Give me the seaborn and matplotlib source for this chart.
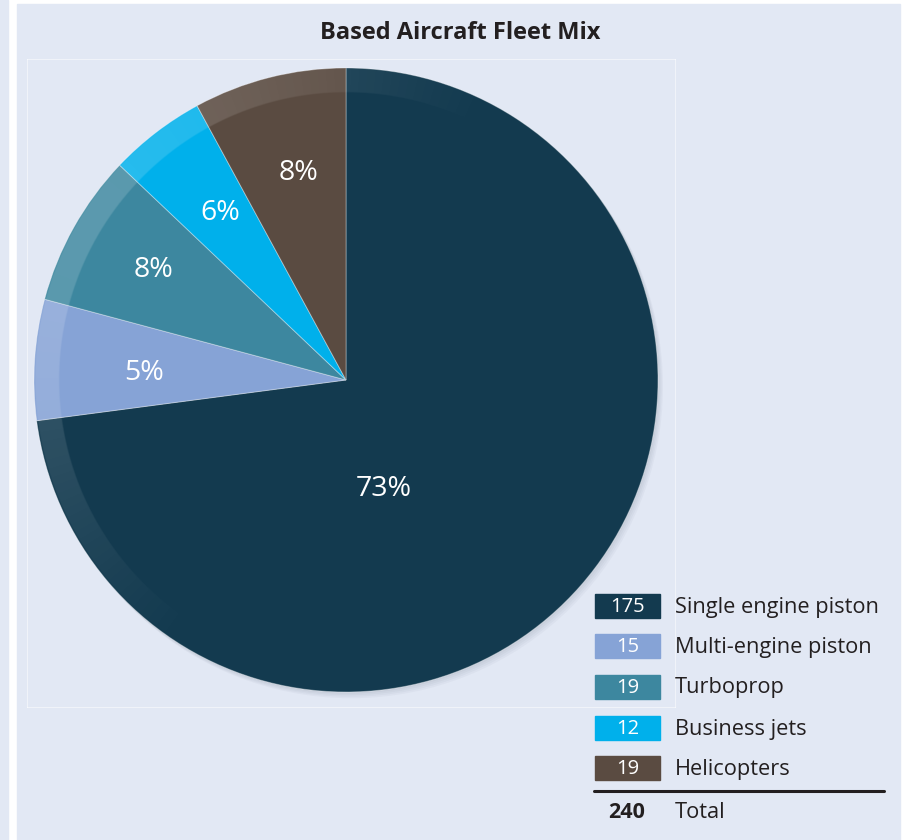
import matplotlib
matplotlib.use("Agg")
import matplotlib.pyplot as plt
import seaborn as sns
import numpy as np
from matplotlib.patches import Rectangle, Circle
from matplotlib.lines import Line2D

# ---- data ----
categories = ["Single engine piston", "Multi-engine piston", "Turboprop", "Business jets", "Helicopters"]
counts = [175, 15, 19, 12, 19]
percent_labels = ["73%", "5%", "8%", "6%", "8%"]
total_label = "240"
total_text = "Total"
title = "Based Aircraft Fleet Mix"
colors = ["#133a4f", "#86a3d6", "#3d879f", "#00b0eb", "#5a4b41"]

# label placement (radius fraction, angle in degrees) - layout only
label_r = [0.37, 0.648, 0.71, 0.67, 0.68]
label_ang = [-71, 178, 150.3, 126.9, 103]

BG = "#e2e8f4"
W, H = 918, 840

sns.set_theme(style="white")
plt.rcParams['font.family'] = ['Open Sans', 'DejaVu Sans']

fig = plt.figure(figsize=(W / 100, H / 100), dpi=100)
fig.patch.set_facecolor("white")


def fx(px):
    return px / W


def fy(py):
    return 1 - py / H


# background panels
fig.patches.append(Rectangle((0, 0), fx(8), 1, transform=fig.transFigure, color=BG, zorder=-5))
fig.patches.append(Rectangle((fx(17), 0), fx(900 - 17), fy(4), transform=fig.transFigure, color=BG, zorder=-5))

# pie axes: center (346, 380) px, radius 312 px
cx, cy, R = 346, 380, 312
ax_l, ax_r, ax_t, ax_b = 27, 675, 59, 707
ax = fig.add_axes([fx(ax_l), fy(ax_b), fx(ax_r - ax_l), (ax_b - ax_t) / H])
ax.set_zorder(2)
ax.set_facecolor("none")

# soft drop shadow
for i in range(4):
    ax.add_patch(Circle((0.004 * (i + 1), -0.005 * (i + 1)), 1.0, color="#4a566e", alpha=0.045, zorder=1, lw=0))

wedges, texts = ax.pie(counts, colors=colors, labels=percent_labels, startangle=90, counterclock=False,
                       radius=1.0, labeldistance=0.68,
                       wedgeprops=dict(edgecolor=(1, 1, 1, 0.35), linewidth=0.7),
                       textprops=dict(color="white", fontsize=20.5, ha="center", va="center"))
for w in wedges:
    w.set_zorder(2)
for t, r, a in zip(texts, label_r, label_ang):
    t.set_zorder(5)
    t.set_position((r * np.cos(np.deg2rad(a)), r * np.sin(np.deg2rad(a))))

ax.set_aspect("auto")
ax.set_xlim((ax_l - cx) / R, (ax_r - cx) / R)
ax.set_ylim((cy - ax_b) / R, (cy - ax_t) / R)
ax.set_axis_on()
ax.set_frame_on(True)
ax.set_xticks([]); ax.set_yticks([])
ax.grid(False)
for s in ax.spines.values():
    s.set_color((1, 1, 1, 0.5))
    s.set_linewidth(0.8)

# glossy outer ring highlight (decorative overlay)
n = 1400
g = np.linspace(-1, 1, n)
X, Y = np.meshgrid(g, g)
Rr = np.hypot(X, Y)
Th = np.arctan2(Y, X)
strength = np.clip(np.cos(Th - np.deg2rad(150)), 0, None) ** 1.3
inner = np.clip((Rr - 0.918) / 0.004, 0, 1)
outer = np.clip((0.999 - Rr) / 0.004, 0, 1)
alpha = 0.16 * strength * inner * outer
img = np.zeros((n, n, 4))
img[..., :3] = 1.0
img[..., 3] = alpha
ax.imshow(img, extent=(-1, 1, -1, 1), origin="lower", zorder=3, interpolation="bilinear")
ax.set_aspect("auto")
ax.set_xlim((ax_l - cx) / R, (ax_r - cx) / R)
ax.set_ylim((cy - ax_b) / R, (cy - ax_t) / R)

# title
fig.text(fx(460), fy(33), title, ha="center", va="center", fontsize=17, fontweight="bold", color="#231f20")

# legend table
row_y = [606, 646, 687, 728, 768]
for yy, c, nval, lab in zip(row_y, colors, counts, categories):
    fig.patches.append(Rectangle((fx(595), fy(yy + 12)), fx(65), 24 / H, transform=fig.transFigure,
                                 color=c, zorder=3))
    fig.text(fx(627.5), fy(yy + 1), str(nval), ha="center", va="center", fontsize=14.5, color="white", zorder=4)
    fig.text(fx(675), fy(yy + 1), lab, ha="left", va="center", fontsize=15.7, color="#231f20")

fig.add_artist(Line2D([fx(594), fx(884)], [fy(791), fy(791)], transform=fig.transFigure,
                      color="#231f20", lw=2.2))
fig.text(fx(627), fy(813), total_label, ha="center", va="center", fontsize=15.5, fontweight="bold", color="#231f20")
fig.text(fx(675), fy(813), total_text, ha="left", va="center", fontsize=15.7, color="#231f20")

fig.savefig("out.png", dpi=100, facecolor=fig.get_facecolor())
